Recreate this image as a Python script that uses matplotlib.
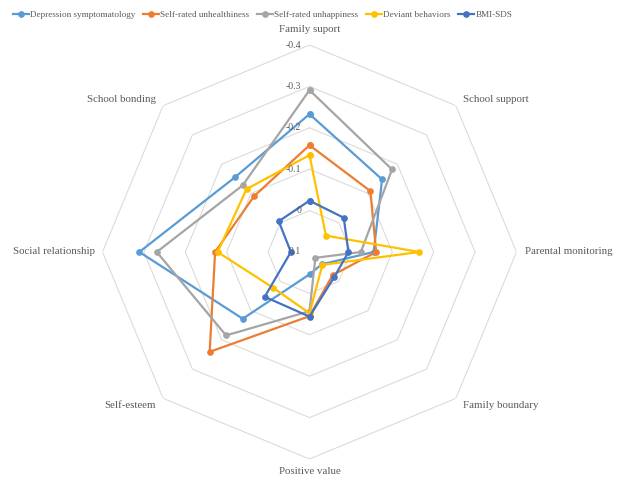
#!/usr/bin/env python3
"""Radar chart: associations of protective factors with five outcomes."""

import numpy as np
import matplotlib

matplotlib.use("Agg")
import matplotlib.pyplot as plt

plt.rcParams["font.family"] = ["Liberation Serif", "DejaVu Serif"]

categories = [
    "Family suport",
    "School support",
    "Parental monitoring",
    "Family boundary",
    "Positive value",
    "Self-esteem",
    "Social relationship",
    "School bonding",
]

series_names = [
    "Depression symptomatology",
    "Self-rated unhealthiness",
    "Self-rated unhappiness",
    "Deviant behaviors",
    "BMI-SDS",
]

depression = [-0.233, -0.148, -0.055, 0.058, 0.046, -0.128, -0.311, -0.155]
unhealthiness = [-0.158, -0.108, -0.061, 0.021, -0.055, -0.241, -0.128, -0.090]
unhappiness = [-0.291, -0.182, -0.024, 0.080, -0.043, -0.185, -0.269, -0.128]
deviant = [-0.134, 0.044, -0.165, 0.056, -0.048, -0.023, -0.122, -0.115]
bmi_sds = [-0.024, -0.017, 0.006, 0.015, -0.056, -0.053, 0.055, -0.005]

ring_levels = [-0.4, -0.3, -0.2, -0.1, 0.0]
tick_labels = ["-0.4", "-0.3", "-0.2", "-0.1", "0", "0.1"]
tick_values = [-0.4, -0.3, -0.2, -0.1, 0.0, 0.1]

colors = ["#5B9BD5", "#ED7D31", "#A5A5A5", "#FFC000", "#4472C4"]
text_color = "#595959"

W, H = 619, 479
fig = plt.figure(figsize=(W / 100, H / 100), dpi=100)
cx, cy, R = 309.5, 252.0, 207.0
ax = fig.add_axes(
    [(cx - R) / W, (H - cy - R) / H, 2 * R / W, 2 * R / H], projection="polar"
)
ax.set_theta_zero_location("N")
ax.set_theta_direction(-1)
ax.set_ylim(0.1, -0.4)
ax.set_xticks([])
ax.set_yticks([])
ax.grid(False)
ax.spines["polar"].set_visible(False)
ax.patch.set_alpha(0)

n = len(categories)
angles = np.linspace(0, 2 * np.pi, n, endpoint=False).tolist()
closed = angles + angles[:1]

for lvl in ring_levels:
    ax.plot(closed, [lvl] * (n + 1), color="#D9D9D9", lw=0.75, zorder=0)

all_series = [depression, unhealthiness, unhappiness, deviant, bmi_sds]
handles = []
for name, vals, c in zip(series_names, all_series, colors):
    (h,) = ax.plot(
        closed, vals + vals[:1], color=c, lw=1.6, marker="o", markersize=3.8,
        label=name, zorder=3, clip_on=False,
    )
    handles.append(h)

for lab, v in zip(tick_labels, tick_values):
    ax.annotate(
        lab, xy=(0, v), xytext=(-6, 0), textcoords="offset points",
        ha="right", va="center", fontsize=7, color=text_color,
    )

# category labels (pixel positions)
label_pos = [
    (309.5, 30, "center"),
    (463, 100, "left"),
    (525, 252, "left"),
    (463, 406, "left"),
    (309.5, 472, "center"),
    (156, 406, "right"),
    (95, 252, "right"),
    (156, 100, "right"),
]
for cat, (x, y, ha) in zip(categories, label_pos):
    fig.text(x / W, 1 - y / H, cat, ha=ha, va="center", fontsize=7.8, color=text_color)

leg = fig.legend(
    handles=handles, loc="center left", bbox_to_anchor=(12.5 / W, 1 - 15 / H),
    ncol=5, frameon=False, fontsize=6.6, handlelength=1.75, handletextpad=0.12,
    columnspacing=0.85, borderpad=0, borderaxespad=0,
)
for t in leg.get_texts():
    t.set_color(text_color)

fig.savefig("out.png", dpi=100)
